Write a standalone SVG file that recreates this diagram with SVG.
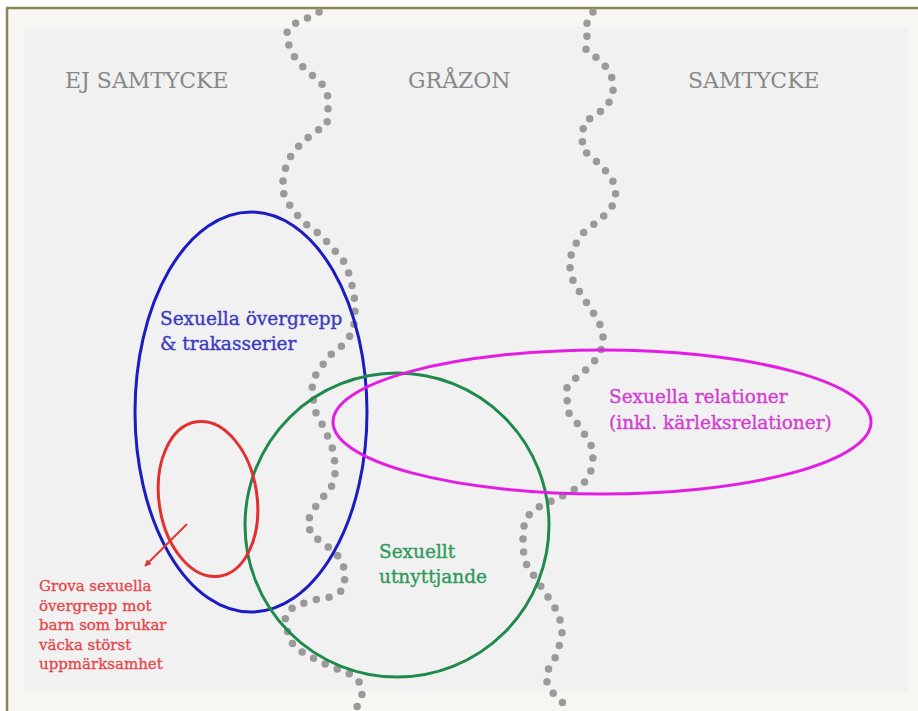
<svg xmlns="http://www.w3.org/2000/svg" width="918" height="711" viewBox="0 0 918 711">
<style>
.hdr{font-family:"DejaVu Serif","Liberation Serif",serif;font-size:22px;fill:#888888}
.lbl{font-family:"DejaVu Serif","Liberation Serif",serif;font-size:18.5px;stroke-width:0.35px}
.dots{fill:none;stroke:#9a9a9a;stroke-width:7.5;stroke-linecap:round;stroke-linejoin:round;stroke-dasharray:0 13}
.ring{fill:none;stroke-width:3}
</style>
<defs>
<marker id="ah" viewBox="0 0 10 10" refX="9" refY="5" markerWidth="7" markerHeight="7" orient="auto" markerUnits="userSpaceOnUse">
<path d="M0,0 L10,5 L0,10 z" fill="#e03535"/>
</marker>
<filter id="soft" x="-5%" y="-5%" width="110%" height="110%"><feGaussianBlur stdDeviation="0.7"/></filter>
</defs>
<rect width="918" height="711" fill="#ffffff"/>
<rect x="6" y="8" width="912" height="703" fill="#f6f6f2"/>
<rect x="24" y="27" width="884" height="664" fill="#f1f1f1"/>
<line x1="7" y1="8" x2="7" y2="711" stroke="#8c8656" stroke-width="2.5"/>
<line x1="6" y1="8" x2="918" y2="8" stroke="#8c8656" stroke-width="2.5"/>

<g id="boundaries" filter="url(#soft)">
<polyline class="dots" points="319,12 310,17 297,22 287,31 288,43 293,55 303,67 312,75 323,85 328,97 328,110 327,125 313,133 303,142 293,152 287,163 283,177 283,192 288,203 297,215 307,225 318,233 328,243 337,253 345,263 350,277 353,290 355,303 355,320 352,333 343,345 333,352 325,362 317,372 312,384 313,397 315,411 322,424 328,437 333,450 335,464 335,478 330,490 320,500 312,512 307,523 312,535 323,543 335,552 343,563 345,577 343,590 330,597 318,599 307,602 293,607 285,617 287,630 292,643 302,652 313,658 327,665 340,670 352,675 360,683 362,695 357,707"/>
<polyline class="dots" points="593,12 587,22 587,35 586,50 597,58 607,68 613,80 613,93 607,107 595,115 584,123 582,137 583,150 593,158 603,168 612,178 616,192 613,205 605,215 593,225 583,233 575,245 570,258 570,273 575,285 583,297 590,308 598,320 603,332 603,345 598,357 588,368 577,377 567,387 567,398 568,412 577,423 585,435 592,447 593,460 590,475 582,485 570,492 560,497 547,503 533,510 525,520 523,533 523,548 525,562 532,573 540,585 548,597 555,608 560,620 562,633 559,647 555,658 548,670 547,682 553,693 563,703"/>
</g>

<g id="zone-headers">
<text class="hdr" x="65" y="88">EJ SAMTYCKE</text>
<text class="hdr" x="408" y="88">GRÅZON</text>
<text class="hdr" x="688" y="88">SAMTYCKE</text>
</g>

<g id="node-overgrepp">
<ellipse class="ring" cx="251" cy="412" rx="116" ry="200" stroke="#1c1cc4"/>
<text class="lbl" fill="#3b3bc0" stroke="#3b3bc0"><tspan x="160" y="325">Sexuella övergrepp</tspan><tspan x="160" y="350">&amp; trakasserier</tspan></text>
</g>

<g id="node-utnyttjande">
<circle class="ring" cx="397" cy="525" r="152" stroke="#1f8a4c"/>
<text class="lbl" fill="#2f9a5c" stroke="#2f9a5c"><tspan x="379" y="558">Sexuellt</tspan><tspan x="379" y="583">utnyttjande</tspan></text>
</g>

<g id="node-relationer">
<ellipse class="ring" cx="602" cy="422" rx="269" ry="72" stroke="#e21ee2"/>
<text class="lbl" fill="#d040d0" stroke="#d040d0"><tspan x="609" y="403">Sexuella relationer</tspan><tspan x="609" y="429">(inkl. kärleksrelationer)</tspan></text>
</g>

<g id="node-grova">
<ellipse class="ring" cx="208" cy="499" rx="49" ry="78" stroke="#e23030" transform="rotate(-8.4 208 499)"/>
<text font-family="DejaVu Serif, Liberation Serif, serif" font-size="15px" fill="#e5454a" stroke="#e5454a" stroke-width="0.3"><tspan x="39" y="591">Grova sexuella</tspan><tspan x="39" y="611">övergrepp mot</tspan><tspan x="39" y="630">barn som brukar</tspan><tspan x="39" y="650">väcka störst</tspan><tspan x="39" y="669">uppmärksamhet</tspan></text>
</g>

<g id="connectors">
<line x1="187" y1="524" x2="145" y2="566" stroke="#e03535" stroke-width="2" marker-end="url(#ah)"/>
</g>
</svg>
